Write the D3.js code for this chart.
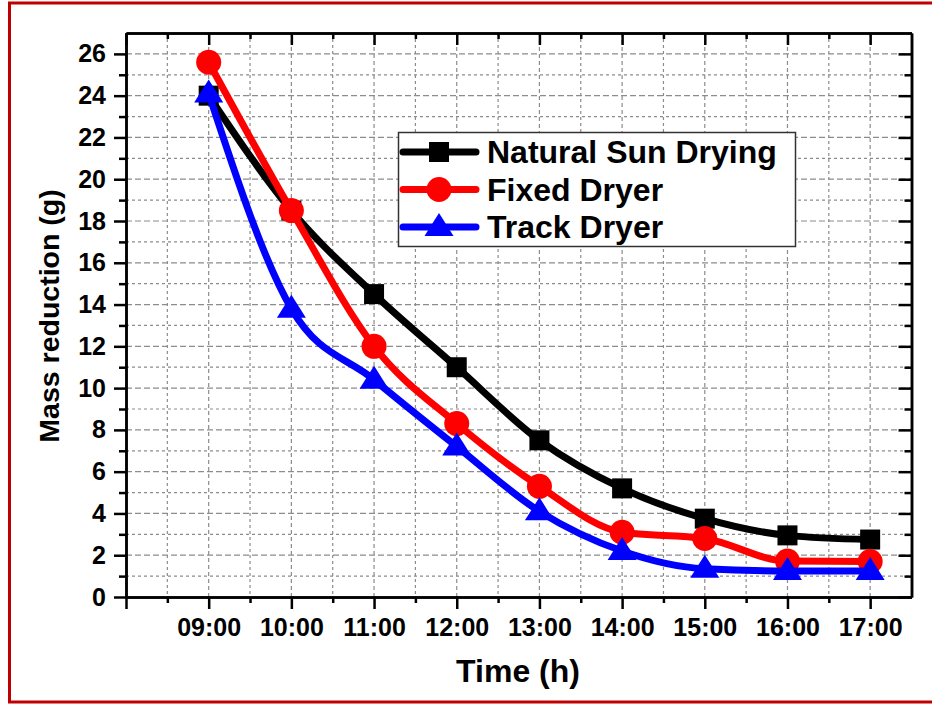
<!DOCTYPE html>
<html lang="en">
<head>
<meta charset="UTF-8">
<title>Mass reduction</title>
<script src="https://cdnjs.cloudflare.com/ajax/libs/d3/7.8.5/d3.min.js"></script>
<style>
  body { margin: 0; background: #fff; }
  svg { display: block; font-family: "Liberation Sans", Arial, sans-serif; font-weight: bold; }
</style>
</head>
<body>
<svg id="chart" width="932" height="704"></svg>
<script>
// hours of the day (x values)
const hours = [9, 10, 11, 12, 13, 14, 15, 16, 17];

// mass reduction in g
const naturalSun = [24.0, 18.5, 14.5, 11.0, 7.5, 5.2, 3.75, 2.95, 2.75];
const fixedDryer = [25.6, 18.5, 12.0, 8.3, 5.3, 3.1, 2.8, 1.72, 1.7];
const trackDryer = [24.1, 13.8, 10.4, 7.2, 4.1, 2.2, 1.35, 1.25, 1.25];

const yTicks = [0, 2, 4, 6, 8, 10, 12, 14, 16, 18, 20, 22, 24, 26];
const seriesNames = ["Natural Sun Drying", "Fixed Dryer", "Track Dryer"];

const series = [
  { name: seriesNames[0], values: naturalSun, color: "#000000", marker: "square" },
  { name: seriesNames[1], values: fixedDryer, color: "#ff0000", marker: "circle" },
  { name: seriesNames[2], values: trackDryer, color: "#0000ff", marker: "triangle" }
];

const svg = d3.select("#chart");

// red frame round the figure (right side runs off the picture)
svg.append("rect")
  .attr("x", 9.5).attr("y", 3)
  .attr("width", 940).attr("height", 699)
  .attr("fill", "none")
  .attr("stroke", "#c00000")
  .attr("stroke-width", 3);

const plotLeft = 126, plotRight = 911.5, plotTop = 33, plotBottom = 597;

const x = d3.scaleLinear().domain([8, 17.5]).range([plotLeft, plotRight]);
const y = d3.scaleLinear().domain([0, 27]).range([plotBottom, plotTop]);

const majorX = d3.range(8, 17.01, 1);
const minorX = d3.range(8.5, 17.4, 1);
const minorY = d3.range(1, 27, 2);

// grid
const grid = svg.append("g").attr("stroke", "#8c8c8c").attr("stroke-width", 1.2);
grid.selectAll(".gx")
  .data(d3.range(8.5, 17.01, 0.5))
  .join("line")
  .attr("x1", d => x(d)).attr("x2", d => x(d))
  .attr("y1", plotTop).attr("y2", plotBottom)
  .attr("stroke-dasharray", d => Number.isInteger(d) ? "4,3" : "3,3");
grid.selectAll(".gy")
  .data(d3.range(1, 27, 1))
  .join("line")
  .attr("x1", plotLeft).attr("x2", plotRight)
  .attr("y1", d => y(d)).attr("y2", d => y(d))
  .attr("stroke-dasharray", d => d % 2 === 0 ? "6,3" : "3,3");

function fmtHour(h) {
  return h === 8 ? "" : d3.format("02d")(h) + ":00";
}

function styleAxis(g) {
  g.select(".domain").attr("stroke", "#000").attr("stroke-width", 2.5);
  g.selectAll(".tick line").attr("stroke", "#000").attr("stroke-width", 2.5);
  g.selectAll("text").attr("fill", "#000").attr("font-size", 25).attr("font-weight", "bold")
    .attr("font-family", "'Liberation Sans', Arial, sans-serif");
}

// bottom axis
svg.append("g")
  .attr("transform", `translate(0,${plotBottom})`)
  .call(d3.axisBottom(x).tickValues(majorX).tickSize(12).tickPadding(9).tickFormat(fmtHour).tickSizeOuter(0))
  .call(styleAxis);
svg.append("g")
  .attr("transform", `translate(0,${plotBottom})`)
  .call(d3.axisBottom(x).tickValues(minorX).tickSize(6).tickFormat("").tickSizeOuter(0))
  .call(styleAxis);

// top axis (ticks inward)
svg.append("g")
  .attr("transform", `translate(0,${plotTop})`)
  .call(d3.axisTop(x).tickValues(majorX).tickSize(-12).tickFormat("").tickSizeOuter(0))
  .call(styleAxis);
svg.append("g")
  .attr("transform", `translate(0,${plotTop})`)
  .call(d3.axisTop(x).tickValues(minorX).tickSize(-6).tickFormat("").tickSizeOuter(0))
  .call(styleAxis);

// left axis
svg.append("g")
  .attr("transform", `translate(${plotLeft},0)`)
  .call(d3.axisLeft(y).tickValues(yTicks).tickSize(12).tickPadding(8).tickSizeOuter(0))
  .call(styleAxis);
svg.append("g")
  .attr("transform", `translate(${plotLeft},0)`)
  .call(d3.axisLeft(y).tickValues(minorY).tickSize(7).tickFormat("").tickSizeOuter(0))
  .call(styleAxis);

// right axis (ticks inward)
svg.append("g")
  .attr("transform", `translate(${plotRight},0)`)
  .call(d3.axisRight(y).tickValues(yTicks).tickSize(-13).tickFormat("").tickSizeOuter(0))
  .call(styleAxis);
svg.append("g")
  .attr("transform", `translate(${plotRight},0)`)
  .call(d3.axisRight(y).tickValues(minorY).tickSize(-7).tickFormat("").tickSizeOuter(0))
  .call(styleAxis);

// axis titles
svg.append("text")
  .attr("x", 518).attr("y", 682)
  .attr("text-anchor", "middle")
  .attr("font-size", 32)
  .text("Time (h)");

svg.append("text")
  .attr("transform", "translate(59,316) rotate(-90)")
  .attr("text-anchor", "middle")
  .attr("font-size", 28.5)
  .text("Mass reduction (g)");

// markers
function drawMarker(g, type, color) {
  if (type === "square") {
    g.append("rect").attr("x", -10).attr("y", -10).attr("width", 20).attr("height", 20).attr("fill", color);
  } else if (type === "circle") {
    g.append("circle").attr("r", 12.5).attr("fill", color);
  } else {
    g.append("path").attr("d", "M0,-14L14.5,9L-14.5,9Z").attr("fill", color);
  }
}

const line = d3.line()
  .x((d, i) => x(hours[i]))
  .y(d => y(d))
  .curve(d3.curveMonotoneX);

series.forEach(s => {
  const g = svg.append("g");
  g.append("path")
    .attr("d", line(s.values))
    .attr("fill", "none")
    .attr("stroke", s.color)
    .attr("stroke-width", 7)
    .attr("stroke-linejoin", "round");
  g.selectAll(".pt")
    .data(s.values)
    .join("g")
    .attr("transform", (d, i) => `translate(${x(hours[i])},${y(d)})`)
    .each(function () { drawMarker(d3.select(this), s.marker, s.color); });
});

// legend
const legend = svg.append("g");
legend.append("rect")
  .attr("x", 398.5).attr("y", 132.5)
  .attr("width", 397).attr("height", 114)
  .attr("fill", "#fff")
  .attr("stroke", "#333")
  .attr("stroke-width", 1.5);

series.forEach((s, i) => {
  const cy = 152 + i * 37.5;
  const row = legend.append("g").attr("transform", `translate(0,${cy})`);
  row.append("line")
    .attr("x1", 403).attr("x2", 476)
    .attr("stroke", s.color).attr("stroke-width", 7).attr("stroke-linecap", "round");
  drawMarker(row.append("g").attr("transform", "translate(439,0)"), s.marker, s.color);
  row.append("text")
    .attr("x", 487).attr("y", 11)
    .attr("font-size", 32)
    .text(s.name);
});
</script>
</body>
</html>
